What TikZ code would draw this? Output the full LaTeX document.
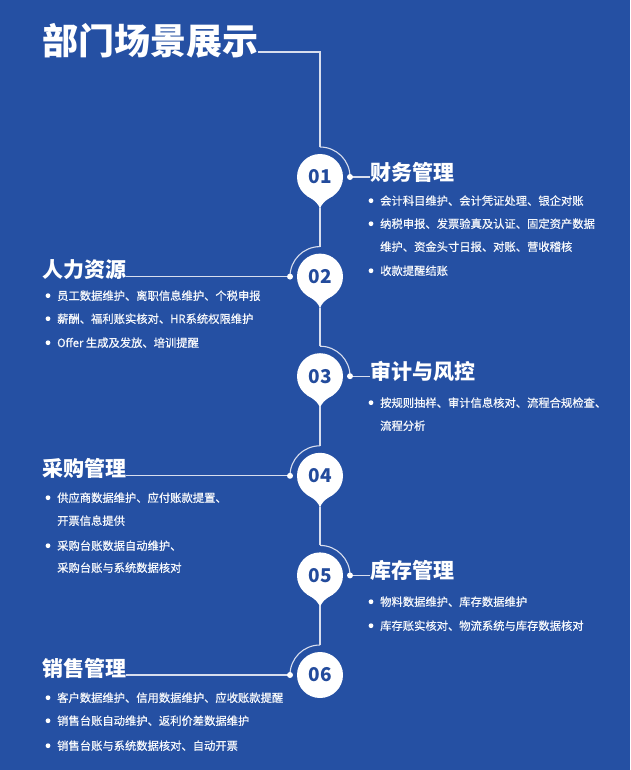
\documentclass[tikz,border=0pt]{standalone}
\usepackage{fontspec}
\setmainfont{Noto Sans CJK SC}
\newfontfamily\bodyfont{Noto Sans CJK SC}[FakeBold=0.7]
\definecolor{bg}{HTML}{2550A3}
\definecolor{num}{HTML}{234B9C}
\definecolor{linecol}{HTML}{D8DEEE}
\newcommand{\bul}[1]{\fill[white] ([xshift=-9pt]#1.west) circle[radius=2.4pt];}

\begin{document}
\begin{tikzpicture}[x=1pt,y=-1pt,
    wire/.style={draw=linecol,line width=1.1pt},
    pin/.style={circle,fill=white,minimum size=46pt,inner sep=0pt,text=num,
      font=\bfseries\fontsize{19}{19}\selectfont},
    head/.style={anchor=base west,inner sep=0pt,text=white,
      font=\bfseries\fontsize{21}{21}\selectfont},
    item/.style={anchor=base west,inner sep=0pt,text=white!96!bg,
      font=\bodyfont\fontsize{11.3}{11.3}\selectfont}]
  \fill[bg] (0,0) rectangle (630,770);
  \node[head,font=\bfseries\fontsize{36}{36}\selectfont] (title) at (42,55) {部门场景展示};

  % pins
  \foreach \i/\y in {1/177,2/276.6,3/376.2,4/475.8,5/575.4}{
    \fill[white,shift={(320,\y)}] (13.2,18.8) .. controls (4,24) and (1.2,27.5) .. (0,32)
      .. controls (-1.2,27.5) and (-4,24) .. (-13.2,18.8) -- cycle;
    \coordinate (tip\i) at (320,\y+31);
  }
  \foreach \i/\y in {1/177,2/276.6,3/376.2,4/475.8,5/575.4,6/675}{
    \node[pin] (p\i) at (320,\y) {0\i};
    \coordinate (top\i) at (320,\y-30);
  }

  % headings
  \node[head] (h1) at (370,180) {财务管理};
  \node[head] (h2) at (42,277.6) {人力资源};
  \node[head] (h3) at (370,379.2) {审计与风控};
  \node[head] (h4) at (42,476.8) {采购管理};
  \node[head] (h5) at (370,578.4) {库存管理};
  \node[head] (h6) at (42,676) {销售管理};

  % connectors
  \coordinate (tl) at (title.east |- 0,52);
  \draw[wire] (tl) -| (top1);
  \foreach \i/\j in {1/2,2/3,3/4,4/5,5/6}
    \draw[wire] (tip\i) -- (top\j);
  \foreach \i in {1,3,5}{
    \draw[wire] (top\i) arc[start angle=90,end angle=0,radius=30pt] coordinate (d\i);
    \draw[wire] (d\i) -- (h\i.west |- d\i);
    \fill[white] (d\i) circle[radius=3pt];
  }
  \foreach \i in {2,4,6}{
    \draw[wire] (top\i) arc[start angle=90,end angle=180,radius=30pt] coordinate (d\i);
    \draw[wire] (d\i) -- (h\i.east |- d\i);
    \fill[white] (d\i) circle[radius=3pt];
  }

  % 01
  \node[item] (a1) at (380,205) {会计科目维护、会计凭证处理、银企对账};
  \node[item] (a2) at (380,228) {纳税申报、发票验真及认证、固定资产数据};
  \node[item] (a3) at (380,251) {维护、资金头寸日报、对账、营收稽核};
  \node[item] (a4) at (380,275) {收款提醒结账};
  \bul{a1} \bul{a2} \bul{a4}
  % 02
  \node[item] (b1) at (57,300) {员工数据维护、离职信息维护、个税申报};
  \node[item] (b2) at (57,323) {薪酬、福利账实核对、HR系统权限维护};
  \node[item] (b3) at (57,347) {Offer 生成及发放、培训提醒};
  \bul{b1} \bul{b2} \bul{b3}
  % 03
  \node[item] (c1) at (380,407) {按规则抽样、审计信息核对、流程合规检查、};
  \node[item] (c2) at (380,430) {流程分析};
  \bul{c1}
  % 04
  \node[item] (e1) at (57,502) {供应商数据维护、应付账款提置、};
  \node[item] (e2) at (57,525) {开票信息提供};
  \node[item] (e3) at (57,550) {采购台账数据自动维护、};
  \node[item] (e4) at (57,572) {采购台账与系统数据核对};
  \bul{e1} \bul{e3}
  % 05
  \node[item] (f1) at (380,606) {物料数据维护、库存数据维护};
  \node[item] (f2) at (380,630) {库存账实核对、物流系统与库存数据核对};
  \bul{f1} \bul{f2}
  % 06
  \node[item] (g1) at (57,702) {客户数据维护、信用数据维护、应收账款提醒};
  \node[item] (g2) at (57,725) {销售台账自动维护、返利价差数据维护};
  \node[item] (g3) at (57,750) {销售台账与系统数据核对、自动开票};
  \bul{g1} \bul{g2} \bul{g3}
\end{tikzpicture}
\end{document}
